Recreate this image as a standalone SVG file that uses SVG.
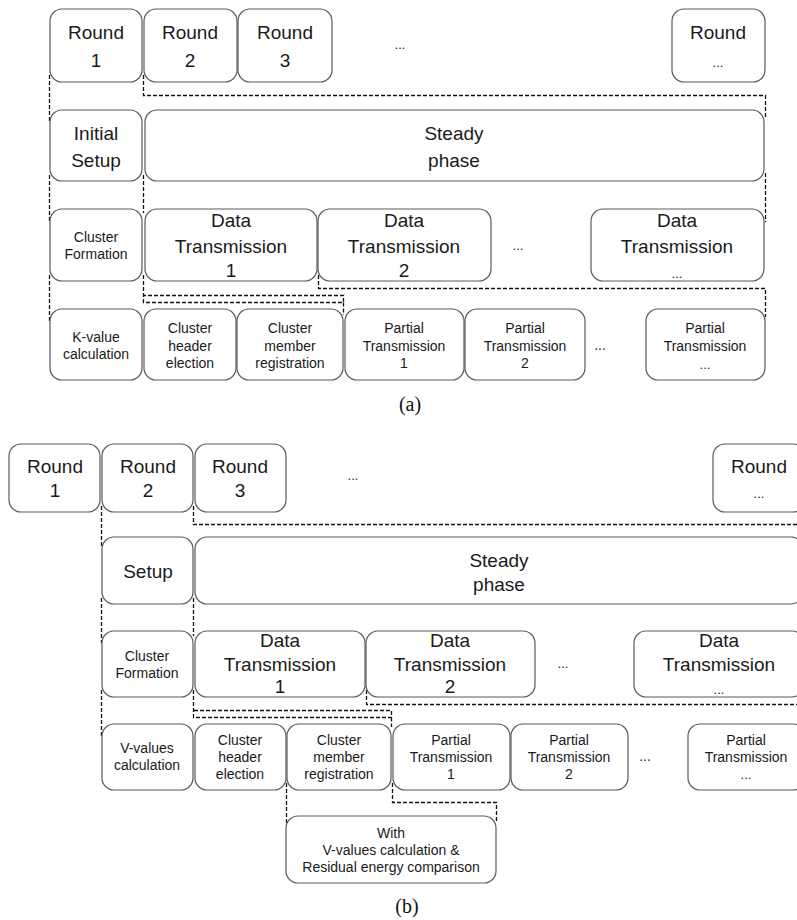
<svg xmlns="http://www.w3.org/2000/svg" width="797" height="920" viewBox="0 0 797 920">
<style>
.b{fill:#fff;stroke:#5a5a5a;stroke-width:1.2}
.L{font-family:"Liberation Sans",Arial,sans-serif;font-size:19px;fill:#1a1a1a;text-anchor:middle}
.S{font-family:"Liberation Sans",Arial,sans-serif;font-size:14px;fill:#1a1a1a;text-anchor:middle}
.D{font-family:"Liberation Sans",Arial,sans-serif;font-size:13px;fill:#1a1a1a;text-anchor:middle}
.C{font-family:"Liberation Serif","Times New Roman",serif;font-size:20px;fill:#111;text-anchor:middle}
.d{fill:none;stroke:#111;stroke-width:1.3;stroke-dasharray:4 2}
</style>
<rect width="797" height="920" fill="#fff"/>
<g id="connectors">
<!-- (a) -->
<path class="d" d="M49.5 75V122"/>
<path class="d" d="M143.5 75V95.5H765.5V117"/>
<path class="d" d="M765.5 173V222"/>
<path class="d" d="M49.5 175V223"/>
<path class="d" d="M143.5 175V213"/>
<path class="d" d="M49.5 275V322"/>
<path class="d" d="M143.5 275V302.5H343.5V295.5H143.5M343.5 302.5V315"/>
<path class="d" d="M318.5 275V288.5H765.5V317"/>
<!-- (b) -->
<path class="d" d="M101.5 506V548"/>
<path class="d" d="M193.5 506V524.5H797"/>
<path class="d" d="M101.5 598V643"/>
<path class="d" d="M193.5 598V636"/>
<path class="d" d="M101.5 690V737"/>
<path class="d" d="M193.5 690V717.5H391.5V710.5H193.5M391.5 717.5V727"/>
<path class="d" d="M366.5 690V704.5H797"/>
<path class="d" d="M286.5 783V825"/>
<path class="d" d="M392.5 783V802.5H496.5V822"/>
</g>
<!-- (a) nodes -->
<g id="a-round1"><rect class="b" x="50" y="9" width="92" height="73" rx="12"/><text class="L" x="96" y="39">Round</text><text class="L" x="96" y="67">1</text></g>
<g id="a-round2"><rect class="b" x="144" y="9" width="93" height="73" rx="12"/><text class="L" x="190" y="39">Round</text><text class="L" x="190" y="67">2</text></g>
<g id="a-round3"><rect class="b" x="238" y="9" width="94" height="73" rx="12"/><text class="L" x="285" y="39">Round</text><text class="L" x="285" y="67">3</text></g>
<g id="a-dots1"><text class="D" x="400" y="49">...</text></g>
<g id="a-roundn"><rect class="b" x="672" y="9" width="93" height="73" rx="12"/><text class="L" x="718" y="39">Round</text><text class="D" x="718" y="67">...</text></g>
<g id="a-setup"><rect class="b" x="50" y="110" width="92" height="71" rx="12"/><text class="L" x="96" y="140">Initial</text><text class="L" x="96" y="167">Setup</text></g>
<g id="a-steady"><rect class="b" x="145" y="110" width="619" height="71" rx="12"/><text class="L" x="454" y="140">Steady</text><text class="L" x="454" y="167">phase</text></g>
<g id="a-cf"><rect class="b" x="50" y="209" width="92" height="72" rx="12"/><text class="S" x="96" y="242">Cluster</text><text class="S" x="96" y="259">Formation</text></g>
<g id="a-dt1"><rect class="b" x="145" y="209" width="172" height="72" rx="12"/><text class="L" x="231" y="227">Data</text><text class="L" x="231" y="253">Transmission</text><text class="L" x="231" y="277">1</text></g>
<g id="a-dt2"><rect class="b" x="318" y="209" width="173" height="72" rx="12"/><text class="L" x="404" y="227">Data</text><text class="L" x="404" y="253">Transmission</text><text class="L" x="404" y="277">2</text></g>
<g id="a-dots2"><text class="D" x="518" y="250">...</text></g>
<g id="a-dtn"><rect class="b" x="591" y="209" width="173" height="72" rx="12"/><text class="L" x="677" y="227">Data</text><text class="L" x="677" y="253">Transmission</text><text class="D" x="677" y="278">...</text></g>
<g id="a-k"><rect class="b" x="50" y="309" width="92" height="71" rx="12"/><text class="S" x="96" y="342">K-value</text><text class="S" x="96" y="359">calculation</text></g>
<g id="a-che"><rect class="b" x="144" y="309" width="92" height="71" rx="12"/><text class="S" x="190" y="333">Cluster</text><text class="S" x="190" y="351">header</text><text class="S" x="190" y="368">election</text></g>
<g id="a-cmr"><rect class="b" x="237" y="309" width="106" height="71" rx="12"/><text class="S" x="290" y="333">Cluster</text><text class="S" x="290" y="351">member</text><text class="S" x="290" y="368">registration</text></g>
<g id="a-pt1"><rect class="b" x="345" y="309" width="119" height="71" rx="12"/><text class="S" x="404" y="333">Partial</text><text class="S" x="404" y="351">Transmission</text><text class="S" x="404" y="368">1</text></g>
<g id="a-pt2"><rect class="b" x="465" y="309" width="120" height="71" rx="12"/><text class="S" x="525" y="333">Partial</text><text class="S" x="525" y="351">Transmission</text><text class="S" x="525" y="368">2</text></g>
<g id="a-dots3"><text class="S" x="600" y="350">...</text></g>
<g id="a-ptn"><rect class="b" x="646" y="309" width="119" height="71" rx="12"/><text class="S" x="705" y="333">Partial</text><text class="S" x="705" y="351">Transmission</text><text class="D" x="705" y="369">...</text></g>
<g id="cap-a"><text class="C" x="410" y="411">(a)</text></g>
<!-- (b) nodes -->
<g id="b-round1"><rect class="b" x="9" y="444" width="91" height="68" rx="12"/><text class="L" x="55" y="473">Round</text><text class="L" x="55" y="497">1</text></g>
<g id="b-round2"><rect class="b" x="102" y="444" width="91" height="68" rx="12"/><text class="L" x="148" y="473">Round</text><text class="L" x="148" y="497">2</text></g>
<g id="b-round3"><rect class="b" x="195" y="444" width="91" height="68" rx="12"/><text class="L" x="240" y="473">Round</text><text class="L" x="240" y="497">3</text></g>
<g id="b-dots1"><text class="D" x="353" y="480">...</text></g>
<g id="b-roundn"><rect class="b" x="713" y="444" width="92" height="68" rx="12"/><text class="L" x="759" y="473">Round</text><text class="D" x="759" y="498">...</text></g>
<g id="b-setup"><rect class="b" x="102" y="537" width="91" height="67" rx="12"/><text class="L" x="148" y="578">Setup</text></g>
<g id="b-steady"><rect class="b" x="195" y="537" width="608" height="67" rx="12"/><text class="L" x="499" y="567">Steady</text><text class="L" x="499" y="591">phase</text></g>
<g id="b-cf"><rect class="b" x="102" y="631" width="91" height="66" rx="12"/><text class="S" x="147" y="661">Cluster</text><text class="S" x="147" y="678">Formation</text></g>
<g id="b-dt1"><rect class="b" x="195" y="631" width="170" height="66" rx="12"/><text class="L" x="280" y="647">Data</text><text class="L" x="280" y="671">Transmission</text><text class="L" x="280" y="693">1</text></g>
<g id="b-dt2"><rect class="b" x="366" y="631" width="169" height="66" rx="12"/><text class="L" x="450" y="647">Data</text><text class="L" x="450" y="671">Transmission</text><text class="L" x="450" y="693">2</text></g>
<g id="b-dots2"><text class="D" x="563" y="668">...</text></g>
<g id="b-dtn"><rect class="b" x="634" y="631" width="170" height="66" rx="12"/><text class="L" x="719" y="647">Data</text><text class="L" x="719" y="671">Transmission</text><text class="D" x="719" y="694">...</text></g>
<g id="b-v"><rect class="b" x="102" y="724" width="91" height="66" rx="12"/><text class="S" x="147" y="753">V-values</text><text class="S" x="147" y="770">calculation</text></g>
<g id="b-che"><rect class="b" x="195" y="724" width="91" height="66" rx="12"/><text class="S" x="240" y="745">Cluster</text><text class="S" x="240" y="762">header</text><text class="S" x="240" y="779">election</text></g>
<g id="b-cmr"><rect class="b" x="287" y="724" width="104" height="66" rx="12"/><text class="S" x="339" y="745">Cluster</text><text class="S" x="339" y="762">member</text><text class="S" x="339" y="779">registration</text></g>
<g id="b-pt1"><rect class="b" x="393" y="724" width="117" height="66" rx="12"/><text class="S" x="451" y="745">Partial</text><text class="S" x="451" y="762">Transmission</text><text class="S" x="451" y="779">1</text></g>
<g id="b-pt2"><rect class="b" x="511" y="724" width="117" height="66" rx="12"/><text class="S" x="569" y="745">Partial</text><text class="S" x="569" y="762">Transmission</text><text class="S" x="569" y="779">2</text></g>
<g id="b-dots3"><text class="S" x="645" y="761">...</text></g>
<g id="b-ptn"><rect class="b" x="688" y="724" width="117" height="66" rx="12"/><text class="S" x="746" y="745">Partial</text><text class="S" x="746" y="762">Transmission</text><text class="D" x="746" y="779">...</text></g>
<g id="b-with"><rect class="b" x="286" y="816" width="210" height="67" rx="12"/><text class="S" x="391" y="838">With</text><text class="S" x="391" y="855">V-values calculation &amp;</text><text class="S" x="391" y="872">Residual energy comparison</text></g>
<g id="cap-b"><text class="C" x="407" y="913">(b)</text></g>
</svg>
